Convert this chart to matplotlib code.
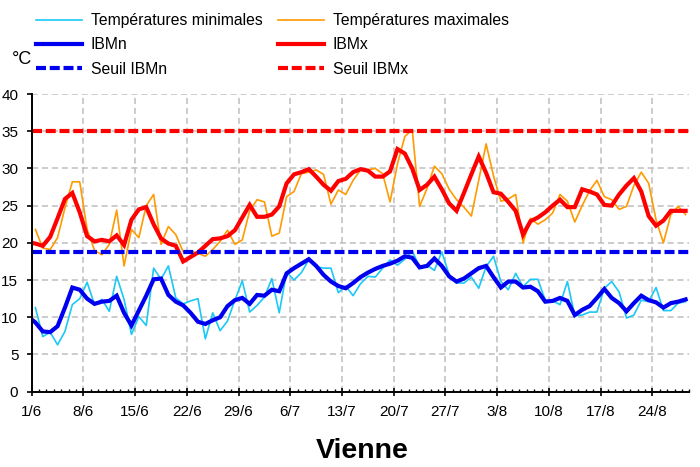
import matplotlib
matplotlib.use('Agg')
import matplotlib.pyplot as plt
import numpy as np
from matplotlib.ticker import MultipleLocator

plt.rcParams['font.family'] = ['Liberation Sans', 'DejaVu Sans']

# ---- data (1/6 .. 28/8) ----
tick_labels = ['1/6', '8/6', '15/6', '22/6', '29/6', '6/7', '13/7', '20/7',
               '27/7', '3/8', '10/8', '17/8', '24/8']

tmin = [11.3, 7.4, 8.0, 6.3, 8.1, 11.7, 12.5, 14.7, 11.7, 12.4,
        10.8, 15.5, 12.4, 7.7, 10.1, 8.9, 16.6, 15.1, 16.9, 12.6,
        11.8, 12.2, 12.5, 7.1, 10.6, 8.2, 9.5, 12.3, 14.9, 10.7,
        11.6, 12.7, 15.2, 10.6, 16.1, 15.0, 16.0, 17.7, 16.8, 16.6,
        16.6, 13.3, 14.2, 12.9, 14.5, 15.5, 15.4, 16.6, 17.7, 17.0,
        17.8, 18.9, 16.8, 17.0, 16.3, 18.8, 15.7, 14.6, 14.6, 15.4,
        13.9, 16.8, 18.2, 14.8, 13.7, 15.9, 14.1, 15.1, 15.1, 12.3,
        12.2, 11.7, 14.8, 10.2, 10.3, 10.7, 10.7, 13.9, 14.8, 13.4,
        9.9, 10.3, 12.3, 12.1, 14.0, 10.9, 10.9, 11.9, 12.1]

tmax = [21.8, 19.3, 19.1, 20.7, 24.7, 28.2, 28.2, 21.8, 19.0, 18.4,
        19.8, 24.4, 16.9, 21.8, 20.7, 25.0, 26.5, 19.8, 22.2, 21.1,
        18.8, 18.9, 18.6, 18.2, 19.1, 20.2, 21.7, 19.8, 20.4, 24.3,
        25.8, 25.5, 20.9, 21.3, 26.2, 26.9, 29.3, 29.5, 29.8, 29.2,
        25.2, 27.1, 26.5, 28.4, 29.8, 29.8, 30.0, 29.3, 25.5, 30.6,
        34.3, 35.2, 24.9, 27.3, 30.3, 29.3, 27.2, 25.8, 24.8, 23.6,
        28.4, 33.3, 29.0, 25.6, 25.9, 26.5, 20.0, 23.3, 22.5, 23.1,
        24.0, 26.5, 25.6, 22.8, 25.0, 27.0, 28.4, 26.2, 25.8, 24.5,
        24.9, 27.7, 29.5, 28.0, 23.1, 20.0, 23.8, 24.9, 23.8]

# IBM series start one day earlier (31/5), clipped by the axis
ibmn = [10.1,
        9.3, 8.1, 8.0, 8.8, 11.3, 14.0, 13.7, 12.5, 11.8, 12.1,
        12.2, 12.9, 10.6, 8.9, 10.9, 12.9, 15.1, 15.2, 13.0, 12.1,
        11.6, 10.6, 9.4, 9.1, 9.6, 10.0, 11.5, 12.3, 12.6, 11.8,
        13.0, 12.9, 13.7, 13.5, 15.9, 16.6, 17.2, 17.8, 16.9, 15.7,
        14.8, 14.2, 13.9, 14.6, 15.4, 16.0, 16.5, 16.9, 17.2, 17.6,
        18.2, 18.0, 16.7, 16.9, 17.9, 16.9, 15.5, 14.8, 15.2, 15.9,
        16.6, 16.9, 15.4, 14.0, 14.8, 14.8, 14.0, 14.1, 13.5, 12.1,
        12.2, 12.6, 12.2, 10.3, 11.0, 11.5, 12.6, 13.8, 12.6, 11.9,
        10.8, 11.9, 12.9, 12.3, 12.0, 11.3, 11.9, 12.1, 12.4]

ibmx = [20.1,
        19.9, 19.6, 20.8, 23.3, 25.9, 26.7, 24.1, 20.9, 20.2, 20.4,
        20.2, 21.0, 19.7, 23.1, 24.5, 24.8, 22.5, 20.6, 19.9, 19.6,
        17.5, 18.1, 18.7, 19.6, 20.5, 20.6, 20.9, 21.7, 23.4, 25.1,
        23.5, 23.5, 23.8, 24.9, 28.0, 29.2, 29.5, 29.9, 28.9, 27.8,
        27.0, 28.3, 28.6, 29.5, 29.9, 29.7, 28.9, 28.9, 29.6, 32.6,
        32.0, 30.0, 27.1, 27.8, 28.9, 27.2, 25.3, 24.3, 26.7, 29.2,
        31.6, 29.4, 26.8, 26.6, 25.5, 24.3, 21.1, 22.9, 23.4, 24.1,
        25.0, 25.8, 24.8, 24.8, 27.2, 26.9, 26.5, 25.1, 25.0, 26.5,
        27.7, 28.7, 26.9, 23.6, 22.3, 23.0, 24.3, 24.3, 24.3]

seuil_ibmn = 18.8
seuil_ibmx = 35.0

# ---- figure ----
fig = plt.figure(figsize=(7.0, 4.67), dpi=100)
ax = fig.add_axes([31.7 / 700, 1 - 391.7 / 467, (689.3 - 31.7) / 700, (391.7 - 94) / 467])

x_raw = np.arange(len(tmin)) + 0.5
x_ibm = np.arange(-1, len(tmin)) + 0.5

c_cyan = '#1CC8F5'
c_orange = '#FF9A00'
c_blue = '#0000F0'
c_red = '#FF0000'

l1, = ax.plot(x_raw, tmin, color=c_cyan, lw=1.2, label='Températures minimales', zorder=3)
l2, = ax.plot(x_raw, tmax, color=c_orange, lw=1.2, label='Températures maximales', zorder=3)
l3, = ax.plot(x_ibm, ibmn, color=c_blue, lw=3.0, label='IBMn', zorder=4, solid_joinstyle='miter')
l4, = ax.plot(x_ibm, ibmx, color=c_red, lw=3.0, label='IBMx', zorder=4, solid_joinstyle='miter')
l5 = ax.axhline(seuil_ibmn, color=c_blue, lw=3.0, ls=(0, (2.4, 0.9)), label='Seuil IBMn', zorder=5)
l6 = ax.axhline(seuil_ibmx, color=c_red, lw=3.0, ls=(0, (2.4, 0.9)), label='Seuil IBMx', zorder=5)

ax.set_xlim(0, len(tmin))
ax.set_ylim(0, 40)

ax.set_xticks(np.arange(len(tick_labels)) * 7)
ax.set_xticklabels(tick_labels)
ax.xaxis.set_minor_locator(MultipleLocator(1))
ax.yaxis.set_major_locator(MultipleLocator(5))

grid_kw = dict(color='#BEBEBE', lw=1.1, ls=(0, (4, 2.5)))
ax.grid(True, which='major', axis='both', **grid_kw)
ax.set_axisbelow(True)

for s in ['top', 'right']:
    ax.spines[s].set_visible(False)
for s in ['left', 'bottom']:
    ax.spines[s].set_linewidth(1.4)
    ax.spines[s].set_color('black')
    ax.spines[s].set_zorder(6)

ax.tick_params(axis='x', which='major', direction='inout', length=5.5, width=1.2,
               labelsize=11, pad=7)
ax.tick_params(axis='x', which='minor', direction='in', length=2.2, width=1.0)
ax.tick_params(axis='y', which='major', direction='out', length=3.6, width=1.2,
               labelsize=11, pad=6)

# legend
leg = fig.legend(handles=[l1, l3, l5, l2, l4, l6], ncol=2, loc='upper left',
                 bbox_to_anchor=(36 / 700, 1 - 13 / 467), frameon=False,
                 fontsize=11.3, handlelength=2.93, handletextpad=0.57,
                 columnspacing=0.95, labelspacing=0.6, borderpad=0,
                 borderaxespad=0)

fig.text(12 / 700, 1 - 60 / 467, '°C', fontsize=13, ha='left', va='center')
fig.text(362 / 700, 1 - 451 / 467, 'Vienne', fontsize=20.5, fontweight='bold',
         ha='center', va='center')

fig.savefig('out.png', dpi=100)
